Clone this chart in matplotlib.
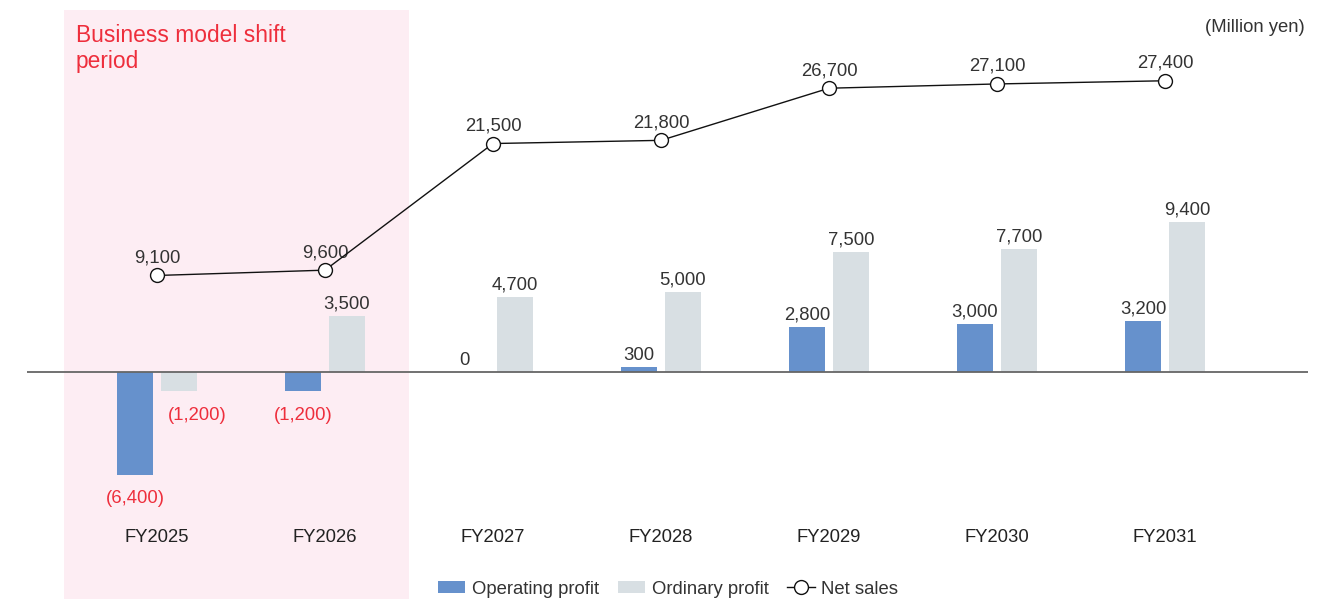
import matplotlib
matplotlib.use("Agg")
import matplotlib.pyplot as plt
from matplotlib.patches import Patch
from matplotlib.lines import Line2D
from matplotlib.transforms import blended_transform_factory, offset_copy

plt.rcParams['font.family'] = ['Liberation Sans', 'DejaVu Sans']

categories = ["FY2025", "FY2026", "FY2027", "FY2028", "FY2029", "FY2030", "FY2031"]
operating_profit = [-6400, -1200, 0, 300, 2800, 3000, 3200]
ordinary_profit = [-1200, 3500, 4700, 5000, 7500, 7700, 9400]
net_sales = [9100, 9600, 21500, 21800, 26700, 27100, 27400]

BLUE = "#6691CC"
GRAY = "#D8DFE3"
PINK = "#FDEDF3"
RED = "#EE2E3C"
TXT = "#333333"

W, H = 1335, 599
fig = plt.figure(figsize=(W / 100, H / 100), dpi=100)
ax = fig.add_axes([27 / W, 0, (1308 - 27) / W, 1])
ax2 = ax.twinx()
ax.set_zorder(1)
ax2.set_zorder(2)
ax.patch.set_visible(False)
ax2.patch.set_visible(False)

unit = 168.0
ax.set_xlim((27 - 157) / unit, (1308 - 157) / unit)
zero_px = 372.3
ax.set_ylim(-(H - zero_px) / 16.0 * 1000, zero_px / 16.0 * 1000)
ax2.set_ylim(-(H - zero_px) / 10.64 * 1000, zero_px / 10.64 * 1000)

for a in (ax, ax2):
    for s in a.spines.values():
        s.set_visible(False)
    a.set_xticks([])
    a.set_yticks([])

x = list(range(len(categories)))
bw = 36 / unit
off = 22 / unit

# shaded period (FY2025-FY2026)
ax.axvspan(x[0] - 0.554, x[1] + 0.5, ymin=0, ymax=1 - 10 / H, color=PINK, lw=0, zorder=0)

xo = [v - off for v in x]
xr = [v + off for v in x]
ax.bar(xo, operating_profit, width=bw, color=BLUE, zorder=2)
ax.bar(xr, ordinary_profit, width=bw, color=GRAY, zorder=2)
ax.axhline(0, color="#666666", lw=1.3, zorder=3)

fs = 13.3

def fmt(v):
    return f"({abs(v):,})" if v < 0 else f"{v:,}"

for xs, vals, is_ord in ((xo, operating_profit, False), (xr, ordinary_profit, True)):
    for xi, v in zip(xs, vals):
        if v > 0:
            tr = offset_copy(ax.transData, fig=fig, x=0, y=5.5, units='points')
            ax.text(xi, v, fmt(v), transform=tr, ha='center', va='baseline',
                    fontsize=fs, color=TXT, zorder=5)
        elif v == 0:
            tr = offset_copy(ax.transData, fig=fig, x=-5, y=5.5, units='points')
            ax.text(xi, v, fmt(v), transform=tr, ha='center', va='baseline',
                    fontsize=fs, color=TXT, zorder=5)
        else:
            dx = 13 if is_ord else 0
            tr = offset_copy(ax.transData, fig=fig, x=dx, y=-11, units='points')
            ax.text(xi, v, fmt(v), transform=tr, ha='center', va='top',
                    fontsize=fs, color=RED, zorder=5)

ax2.plot(x, net_sales, color="#111111", lw=1.0, marker='o', markersize=10,
         markerfacecolor='white', markeredgecolor='#111111', markeredgewidth=1.0, zorder=4)
for xi, v in zip(x, net_sales):
    tr = offset_copy(ax2.transData, fig=fig, x=0, y=9.4, units='points')
    ax2.text(xi, v, fmt(v), transform=tr, ha='center', va='baseline',
             fontsize=fs, color=TXT)

bt = blended_transform_factory(ax.transData, fig.transFigure)
for xi, c in zip(x, categories):
    ax.text(xi, 1 - 538 / H, c, transform=bt, ha='center', va='center',
            fontsize=fs, color="#222222")

fig.text(76 / W, 1 - 24 / H, "Business model shift\nperiod", ha='left', va='top',
         fontsize=16.4, color=RED, linespacing=1.15)
fig.text(1305 / W, 1 - 27 / H, "(Million yen)", ha='right', va='center',
         fontsize=fs, color=TXT)

handles = [
    Patch(facecolor=BLUE, edgecolor='none', label="Operating profit"),
    Patch(facecolor=GRAY, edgecolor='none', label="Ordinary profit"),
    Line2D([0], [0], color="#111111", lw=1.0, marker='o', markersize=10,
           markerfacecolor='white', markeredgecolor='#111111', label="Net sales"),
]
fig.legend(handles=handles, loc='center', bbox_to_anchor=(668 / W, 1 - 589 / H),
           ncol=3, frameon=False, fontsize=fs, handlelength=1.5, handleheight=0.55,
           handletextpad=0.35, columnspacing=1.0, labelcolor=TXT)

fig.savefig("out.png", dpi=100)
